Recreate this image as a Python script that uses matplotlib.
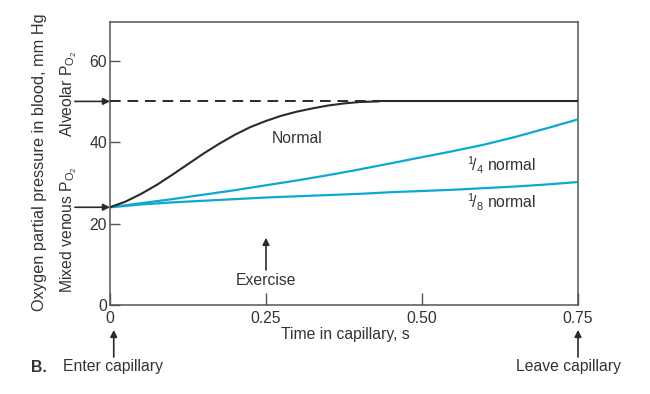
import matplotlib
matplotlib.use("Agg")
import matplotlib.pyplot as plt

plt.rcParams['font.family'] = ['Liberation Sans', 'DejaVu Sans']
plt.rcParams['mathtext.fontset'] = 'custom'
plt.rcParams['mathtext.rm'] = 'Liberation Sans'
plt.rcParams['mathtext.it'] = 'Liberation Sans:italic'
plt.rcParams['mathtext.bf'] = 'Liberation Sans:bold'

# ---- data ----
t_normal = [0, 0.025, 0.05, 0.075, 0.1, 0.125, 0.15, 0.175, 0.2, 0.225,
            0.25, 0.275, 0.3, 0.325, 0.35, 0.375, 0.4, 0.43]
v_normal = [24, 25.4, 27.3, 29.5, 32.0, 34.6, 37.2, 39.6, 41.8, 43.7,
            45.2, 46.5, 47.5, 48.3, 49.0, 49.5, 49.85, 50.0]
t_plateau = [0.43, 0.75]
v_plateau = [50, 50]
t_alveolar_dash = [0, 0.43]
v_alveolar_dash = [50, 50]

t_quarter = [0, 0.05, 0.1, 0.15, 0.2, 0.25, 0.3, 0.35, 0.4, 0.45, 0.5,
             0.55, 0.6, 0.65, 0.7, 0.75]
v_quarter = [24, 25.0, 26.0, 27.1, 28.2, 29.4, 30.6, 31.9, 33.3, 34.8, 36.3,
             37.8, 39.4, 41.3, 43.4, 45.6]

t_eighth = [0, 0.05, 0.1, 0.15, 0.2, 0.25, 0.3, 0.35, 0.4, 0.45, 0.5,
            0.55, 0.6, 0.65, 0.7, 0.75]
v_eighth = [24, 24.7, 25.2, 25.6, 26.0, 26.4, 26.7, 27.0, 27.3, 27.7, 28.0,
            28.3, 28.7, 29.1, 29.6, 30.2]

x_ticks = [0, 0.25, 0.5, 0.75]
x_ticklabels = ["0", "0.25", "0.50", "0.75"]
y_ticks = [0, 20, 40, 60]
y_ticklabels = ["0", "20", "40", "60"]

alveolar_po2 = 50
venous_po2 = 24

# ---- figure ----
W, H = 650, 394
fig = plt.figure(figsize=(6.5, 3.94), dpi=100)
L, R, B, T = 110, 578, 305, 22
ax = fig.add_axes([L / W, 1 - B / H, (R - L) / W, (B - T) / H])
ax.set_xlim(0, 0.75)
ax.set_ylim(0, 69.5)

dark = '#2a2a2a'
cyan = '#0aaad0'
spine_c = '#555555'
txt = '#333333'
FS = 11.3

ax.plot(t_alveolar_dash, v_alveolar_dash, color=dark, lw=1.4,
        dashes=(5.5, 3.5), zorder=3)
ax.plot(t_plateau, v_plateau, color=dark, lw=1.5, zorder=3)
ax.plot(t_normal, v_normal, color=dark, lw=1.5, zorder=4,
        solid_joinstyle='round')
ax.plot(t_quarter, v_quarter, color=cyan, lw=1.6, zorder=3,
        solid_joinstyle='round')
ax.plot(t_eighth, v_eighth, color=cyan, lw=1.6, zorder=3,
        solid_joinstyle='round')

for s in ax.spines.values():
    s.set_color(spine_c)
    s.set_linewidth(1.1)

ax.set_xticks(x_ticks)
ax.set_xticklabels(x_ticklabels)
ax.set_yticks(y_ticks)
ax.set_yticklabels(y_ticklabels)
ax.tick_params(axis='x', direction='in', length=8.5, width=1.0, color=spine_c,
               labelsize=FS, labelcolor=txt, pad=4)
ax.tick_params(axis='y', direction='in', length=7, width=1.0, color=spine_c,
               labelsize=FS, labelcolor=txt, pad=2)

# curve labels
ax.text(0.30, 41.0, "Normal", fontsize=FS, color=txt, ha='center', va='center')
ax.text(0.572, 34.3, r"$^{1}\!/_{4}$ normal", fontsize=FS, color=txt,
        ha='left', va='center')
ax.text(0.572, 25.3, r"$^{1}\!/_{8}$ normal", fontsize=FS, color=txt,
        ha='left', va='center')

# left arrows
arrow_kw = dict(arrowstyle='-|>', color=dark, lw=1.2, mutation_scale=10,
                shrinkA=0, shrinkB=0)
ytr = ax.get_yaxis_transform()
for v in (alveolar_po2, venous_po2):
    ax.annotate('', xy=(0, v), xycoords='data', xytext=(-0.075, v),
                textcoords=ytr, arrowprops=arrow_kw, annotation_clip=False)

# bottom arrows
xtr = ax.get_xaxis_transform()
for x in (0.006, 0.75):
    ax.annotate('', xy=(x, -0.088), xycoords=xtr, xytext=(x, -0.184),
                textcoords=xtr, arrowprops=arrow_kw, annotation_clip=False)

# exercise arrow
ax.annotate('', xy=(0.25, 16.5), xytext=(0.25, 8.6), arrowprops=arrow_kw)
ax.text(0.25, 6.1, "Exercise", fontsize=FS, color=txt, ha='center', va='center')

# axis labels
fig.text(345 / W, 1 - 334 / H, "Time in capillary, s", fontsize=FS, color=txt,
         ha='center', va='center')
fig.text(40 / W, 1 - 162 / H, "Oxygen partial pressure in blood, mm Hg",
         fontsize=11.8, color=txt, rotation=90, ha='center', va='center')
fig.text(69 / W, 1 - 94 / H, r"Alveolar $\mathrm{P_{O_2}}$", fontsize=FS,
         color=txt, rotation=90, ha='center', va='center')
fig.text(69 / W, 1 - 230 / H, r"Mixed venous $\mathrm{P_{O_2}}$", fontsize=FS,
         color=txt, rotation=90, ha='center', va='center')

fig.text(31 / W, 1 - 367 / H, "B.", fontsize=FS, color=txt, fontweight='bold',
         ha='left', va='center')
fig.text(63 / W, 1 - 367 / H, "Enter capillary", fontsize=FS, color=txt,
         ha='left', va='center')
fig.text(569 / W, 1 - 367 / H, "Leave capillary", fontsize=FS, color=txt,
         ha='center', va='center')

fig.savefig("out.png", dpi=100)
